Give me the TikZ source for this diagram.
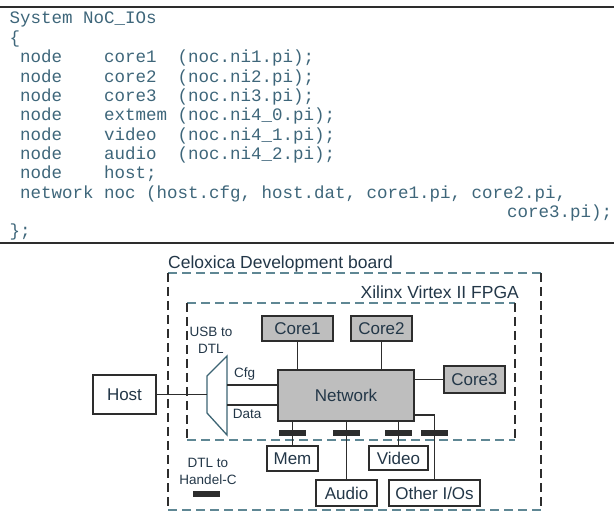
\documentclass[tikz,border=0pt]{standalone}
\usepackage{fontspec}
\setmainfont{Liberation Sans}
\setmonofont{Liberation Mono}
\usepackage{tikz}
\usetikzlibrary{positioning}

\definecolor{codecol}{RGB}{62,102,122}
\definecolor{lblcol}{RGB}{35,55,72}
\definecolor{boxfill}{RGB}{190,190,190}
\definecolor{edgecol}{RGB}{45,45,45}
\definecolor{dashcol}{RGB}{95,135,148}
\definecolor{usbcol}{RGB}{60,100,115}

\begin{document}
\begin{tikzpicture}[x=1pt,y=-1pt,
  codeln/.style={anchor=base west,inner sep=0pt,text=codecol,font=\ttfamily\fontsize{17.5}{20}\selectfont},
  bigtxt/.style={inner sep=0pt,text=lblcol,font=\fontsize{17.5}{20}\selectfont},
  smalltxt/.style={inner sep=0pt,text=lblcol,align=center,font=\fontsize{13.5}{17}\selectfont},
  corebox/.style={draw=edgecol,fill=boxfill,line width=1.3pt,inner sep=0pt,text=lblcol,font=\fontsize{17}{20}\selectfont},
  iobox/.style={corebox,fill=white},
  busbar/.style={fill=edgecol,inner sep=0pt,minimum width=27pt,minimum height=6pt},
  wire/.style={edgecol,line width=1.2pt},
  brddash/.style={line width=1.6pt,dash pattern=on 9pt off 5pt}]
\useasboundingbox (0,0) rectangle (614,513);

% listing
\draw[edgecol,line width=2.2pt](0,7)--(614,7) (0,243)--(614,243);
\node[codeln] (c1) at (9.5,24) {System~NoC\_IOs};
\node[codeln] (c2) at (9.5,43.4) {\{};
\node[codeln] (c3) at (9.5,62.7) {~node~~~~core1~~(noc.ni1.pi);};
\node[codeln] (c4) at (9.5,82.1) {~node~~~~core2~~(noc.ni2.pi);};
\node[codeln] (c5) at (9.5,101.4) {~node~~~~core3~~(noc.ni3.pi);};
\node[codeln] (c6) at (9.5,120.8) {~node~~~~extmem~(noc.ni4\_0.pi);};
\node[codeln] (c7) at (9.5,140.1) {~node~~~~video~~(noc.ni4\_1.pi);};
\node[codeln] (c8) at (9.5,159.5) {~node~~~~audio~~(noc.ni4\_2.pi);};
\node[codeln] (c9) at (9.5,178.8) {~node~~~~host;};
\node[codeln] (c10) at (9.5,198.2) {~network~noc~(host.cfg,~host.dat,~core1.pi,~core2.pi,};
\node[codeln] (c11) at (507,217.5) {core3.pi);};
\node[codeln] (c12) at (9.5,236.9) {\};};

% board and fpga
\draw[brddash,dashcol](168,273)--(541,273) (168,510)--(541,510);
\draw[brddash,edgecol](168,273)--(168,510) (541,273)--(541,510);
\draw[brddash,dashcol](187,303)--(515,303) (187,440)--(515,440);
\draw[brddash,edgecol](187,303)--(187,440) (515,303)--(515,440);
\node[bigtxt,anchor=base west] (board) at (168,268.5) {Celoxica Development board};
\node[bigtxt,anchor=base east] (fpga) at (519,298.5) {Xilinx Virtex II FPGA};

% blocks
\node[corebox,minimum width=136pt,minimum height=51pt] (net) at (346,395.5) {Network};
\node[corebox,minimum width=71pt,minimum height=25pt] (core1) at (297.5,328.5) {Core1};
\node[corebox,minimum width=61pt,minimum height=25pt] (core2) at (381.5,328.5) {Core2};
\node[corebox,minimum width=61pt,minimum height=27pt] (core3) at (474.5,379.5) {Core3};
\node[iobox,minimum width=63pt,minimum height=39pt] (host) at (124.5,394.5) {Host};
\node[iobox,minimum width=51pt,minimum height=25pt] (mem) at (292.5,458.5) {Mem};
\node[iobox,minimum width=59pt,minimum height=24pt] (video) at (398.5,458) {Video};
\node[iobox,minimum width=61pt,minimum height=26pt] (audio) at (346.5,493) {Audio};
\node[iobox,minimum width=91pt,minimum height=26pt] (other) at (434.5,493) {Other I/Os};

\draw[wire](core1.south)--(core1.south|-net.north);
\draw[wire](core2.south)--(core2.south|-net.north);
\draw[wire](core3.west)--(core3.west-|net.east);

% usb to dtl
\coordinate (usbin) at (207,394.5);
\coordinate (cfgout) at (227,385);
\coordinate (datout) at (227,405);
\draw[usbcol,line width=1.3pt](207,376)--(227,356)--(227,435)--(207,413)--cycle;
\node[smalltxt] (usblbl) at (211,340.5) {USB to\\DTL};
\draw[wire](host.east)--(usbin);
\draw[wire](cfgout)--node[smalltxt,above=4pt,pos=0.35] (cfg) {Cfg}(cfgout-|net.west);
\draw[wire](datout)--node[smalltxt,below=4pt,pos=0.4] (dat) {Data}(datout-|net.west);

% io links
\coordinate (otherturn) at (434.5,415);
\draw[wire](mem.north)--(mem.north|-net.south);
\draw[wire](video.north)--(video.north|-net.south);
\draw[wire](audio.north)--(audio.north|-net.south);
\draw[wire](otherturn-|net.east)--(otherturn)--(other.north);
\node[busbar] (barmem) at (292.5,433) {};
\node[busbar] (baraudio) at (346.5,433) {};
\node[busbar] (barvideo) at (398.5,433) {};
\node[busbar] (barother) at (434.5,433) {};

% legend
\node[smalltxt] (dtllbl) at (208,471.5) {DTL to\\Handel-C};
\node[busbar] (barkey) at (206.5,494) {};
\end{tikzpicture}
\end{document}
